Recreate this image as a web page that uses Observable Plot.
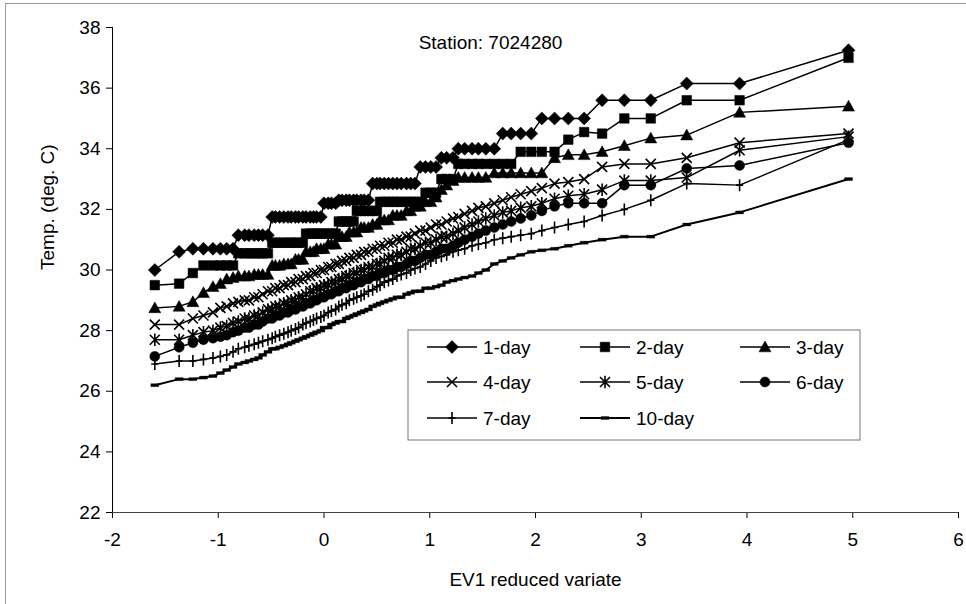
<!DOCTYPE html>
<html><head><meta charset="utf-8">
<script src="https://cdn.jsdelivr.net/npm/d3@7"></script>
<script src="https://cdn.jsdelivr.net/npm/@observablehq/plot@0.6"></script>
<style>
body{margin:0;background:#fff;}
#wrap{position:relative;width:966px;height:604px;overflow:hidden;font-family:"Liberation Sans",Arial,sans-serif;background:#fff;}
#wrap svg{display:block;}
#border{position:absolute;left:5px;top:3px;width:975px;height:615px;border:1px solid #999;pointer-events:none;}
#legend{position:absolute;left:0;top:0;pointer-events:none;}
</style></head><body><div id="wrap"><div id="border"></div></div>
<script>
// EV1 reduced variate (plotting positions shared by all series)
const xValues = [-1.60,-1.37,-1.24,-1.14,-1.05,-0.98,-0.92,-0.86,-0.81,-0.75,
-0.71,-0.66,-0.62,-0.58,-0.53,-0.49,-0.46,-0.42,-0.38,-0.34,
-0.31,-0.27,-0.24,-0.20,-0.17,-0.13,-0.10,-0.07,-0.03,0.00,
0.04,0.07,0.11,0.14,0.17,0.21,0.24,0.28,0.31,0.35,
0.38,0.42,0.46,0.50,0.53,0.57,0.61,0.65,0.69,0.73,
0.78,0.82,0.86,0.91,0.96,1.01,1.06,1.11,1.16,1.22,
1.27,1.33,1.40,1.46,1.53,1.61,1.69,1.77,1.86,1.96,
2.06,2.18,2.31,2.46,2.63,2.84,3.09,3.43,3.93,4.96];

const day1 = [30.0,30.6,30.7,30.7,30.7,30.7,30.7,30.7,31.15,31.15,
31.15,31.15,31.15,31.15,31.15,31.75,31.75,31.75,31.75,31.75,
31.75,31.75,31.75,31.75,31.75,31.75,31.75,31.75,31.75,32.2,
32.2,32.2,32.2,32.3,32.3,32.3,32.3,32.3,32.3,32.3,
32.3,32.3,32.85,32.85,32.85,32.85,32.85,32.85,32.85,32.85,
32.85,32.85,32.85,33.4,33.4,33.4,33.4,33.7,33.7,33.7,
34.0,34.0,34.0,34.0,34.0,34.0,34.5,34.5,34.5,34.5,
35.0,35.0,35.0,35.0,35.6,35.6,35.6,36.15,36.15,37.25];

const day2 = [29.5,29.55,29.9,30.15,30.15,30.15,30.15,30.15,30.55,30.55,
30.55,30.55,30.55,30.55,30.55,30.9,30.9,30.9,30.9,30.9,
30.9,30.9,30.9,30.9,31.2,31.2,31.2,31.2,31.2,31.2,
31.2,31.2,31.2,31.6,31.6,31.6,31.6,31.6,31.95,31.95,
31.95,31.95,31.95,31.95,32.25,32.25,32.25,32.25,32.25,32.25,
32.25,32.25,32.25,32.25,32.55,32.55,32.55,33.0,33.0,33.0,
33.5,33.5,33.5,33.5,33.5,33.5,33.5,33.5,33.9,33.9,
33.9,33.9,34.3,34.55,34.5,35.0,35.0,35.6,35.6,37.0];

const day3 = [28.75,28.8,28.95,29.25,29.45,29.55,29.7,29.75,29.8,29.8,
29.8,29.85,29.85,29.85,29.85,30.15,30.15,30.15,30.2,30.2,
30.2,30.35,30.35,30.35,30.6,30.6,30.6,30.7,30.7,30.7,
30.85,30.85,30.85,31.1,31.1,31.1,31.25,31.25,31.25,31.4,
31.4,31.4,31.5,31.5,31.65,31.65,31.65,31.8,31.8,31.8,
31.95,31.95,32.1,32.1,32.25,32.25,32.4,32.65,32.8,32.95,
33.05,33.05,33.05,33.05,33.05,33.2,33.2,33.2,33.2,33.2,
33.2,33.7,33.8,33.8,33.9,34.1,34.35,34.45,35.2,35.4];

const day4 = [28.2,28.2,28.4,28.5,28.6,28.75,28.8,28.9,28.95,29.0,
29.0,29.1,29.1,29.2,29.3,29.3,29.4,29.4,29.5,29.5,
29.6,29.6,29.7,29.7,29.8,29.8,29.9,29.9,30.0,30.0,
30.1,30.1,30.2,30.2,30.3,30.3,30.4,30.4,30.5,30.5,
30.6,30.6,30.7,30.7,30.8,30.8,30.9,30.9,31.0,31.0,
31.1,31.1,31.2,31.3,31.3,31.4,31.5,31.5,31.6,31.7,
31.75,31.85,31.95,32.05,32.1,32.2,32.3,32.4,32.5,32.6,
32.7,32.85,32.9,33.0,33.4,33.5,33.5,33.7,34.2,34.5];

const day5 = [27.7,27.7,27.85,27.95,28.0,28.1,28.15,28.25,28.3,28.4,
28.4,28.5,28.5,28.6,28.7,28.7,28.8,28.8,28.9,28.9,
29.0,29.0,29.1,29.1,29.2,29.3,29.3,29.4,29.4,29.5,
29.5,29.6,29.6,29.7,29.7,29.8,29.8,29.9,29.9,30.0,
30.0,30.1,30.1,30.2,30.2,30.3,30.4,30.4,30.5,30.5,
30.6,30.7,30.7,30.8,30.9,30.9,31.0,31.1,31.1,31.2,
31.3,31.4,31.5,31.6,31.7,31.8,31.9,31.95,32.05,32.1,
32.2,32.35,32.45,32.5,32.65,32.95,32.95,33.05,33.95,34.4];

const day6 = [27.15,27.45,27.6,27.7,27.75,27.8,27.85,27.95,28.0,28.1,
28.1,28.2,28.2,28.3,28.4,28.4,28.5,28.5,28.6,28.6,
28.7,28.7,28.8,28.8,28.9,28.9,29.0,29.0,29.1,29.1,
29.2,29.2,29.3,29.3,29.4,29.4,29.5,29.5,29.6,29.6,
29.7,29.7,29.8,29.8,29.9,29.9,30.0,30.0,30.1,30.1,
30.2,30.3,30.3,30.4,30.5,30.5,30.6,30.7,30.7,30.8,
30.9,31.0,31.1,31.2,31.3,31.4,31.5,31.6,31.7,31.8,
31.95,32.1,32.2,32.2,32.2,32.8,32.8,33.35,33.45,34.2];

const day7 = [26.9,27.0,27.0,27.05,27.1,27.15,27.2,27.3,27.4,27.45,
27.5,27.55,27.6,27.65,27.7,27.75,27.8,27.85,27.9,27.95,
28.0,28.05,28.1,28.2,28.25,28.3,28.35,28.4,28.45,28.5,
28.6,28.65,28.7,28.8,28.85,28.9,29.0,29.05,29.1,29.15,
29.2,29.3,29.35,29.45,29.5,29.6,29.65,29.7,29.8,29.85,
29.9,30.0,30.05,30.1,30.2,30.3,30.4,30.45,30.5,30.6,
30.65,30.7,30.8,30.85,30.9,31.0,31.05,31.1,31.15,31.2,
31.3,31.4,31.5,31.6,31.8,32.0,32.3,32.85,32.8,34.3];

const day10 = [26.2,26.4,26.4,26.45,26.5,26.6,26.7,26.8,26.9,26.95,
27.0,27.05,27.1,27.2,27.3,27.4,27.4,27.45,27.5,27.55,
27.6,27.65,27.7,27.75,27.8,27.85,27.9,27.95,28.0,28.1,
28.1,28.2,28.25,28.3,28.3,28.4,28.45,28.5,28.55,28.6,
28.65,28.7,28.8,28.85,28.9,28.95,29.0,29.05,29.1,29.1,
29.2,29.25,29.3,29.3,29.4,29.4,29.45,29.5,29.6,29.65,
29.7,29.75,29.8,29.9,30.0,30.2,30.3,30.4,30.5,30.6,
30.65,30.7,30.8,30.9,31.0,31.1,31.1,31.5,31.9,33.0];

const seriesNames = ["1-day","2-day","3-day","4-day","5-day","6-day","7-day","10-day"];
const seriesValues = [day1, day2, day3, day4, day5, day6, day7, day10];
const xTicks = [-2,-1,0,1,2,3,4,5,6];
const yTicks = [22,24,26,28,30,32,34,36,38];
const titleText = "Station: 7024280";
const xLabel = "EV1 reduced variate";
const yLabel = "Temp. (deg. C)";

// marker glyphs (Excel style)
const R = s => Math.sqrt(s / Math.PI);
const symDiamond = {draw(c, s){const r=R(s); c.moveTo(0,-r); c.lineTo(r,0); c.lineTo(0,r); c.lineTo(-r,0); c.closePath();}};
const symSquare = {draw(c, s){const r=R(s); c.rect(-r,-r,2*r,2*r);}};
const symTriangle = {draw(c, s){const r=R(s); c.moveTo(0,-r); c.lineTo(r,r*0.8); c.lineTo(-r,r*0.8); c.closePath();}};
const symTimes = {draw(c, s){const r=R(s); c.moveTo(-r,-r); c.lineTo(r,r); c.moveTo(r,-r); c.lineTo(-r,r);}};
const symStar = {draw(c, s){const r=R(s); c.moveTo(-r,-r); c.lineTo(r,r); c.moveTo(r,-r); c.lineTo(-r,r); c.moveTo(0,-r*1.25); c.lineTo(0,r*1.25);}};
const symCircle = {draw(c, s){const r=R(s); c.moveTo(r,0); c.arc(0,0,r,0,2*Math.PI);}};
const symPlus = {draw(c, s){const r=R(s); c.moveTo(0,-r); c.lineTo(0,r); c.moveTo(-r*0.6,0); c.lineTo(r*0.6,0);}};
const symDash = {draw(c, s){const r=R(s); c.rect(-r,-1.5,2*r,3);}};

const styles = [
  {sym: symDiamond, r: 6.5, fill: "black", sw: 0.5},
  {sym: symSquare, r: 4.8, fill: "black", sw: 0.5},
  {sym: symTriangle, r: 6, fill: "black", sw: 0.5},
  {sym: symTimes, r: 5, fill: "none", sw: 1.6},
  {sym: symStar, r: 5, fill: "none", sw: 1.6},
  {sym: symCircle, r: 5, fill: "black", sw: 0.5},
  {sym: symPlus, r: 6, fill: "none", sw: 1.6},
  {sym: symDash, r: 4, fill: "black", sw: 0.3}
];

const rows = seriesNames.map((name, i) => xValues.map((x, j) => ({x, t: seriesValues[i][j], s: name})));

const seriesMarks = [];
rows.forEach((data, i) => {
  const st = styles[i];
  seriesMarks.push(Plot.line(data, {x: "x", y: "t", stroke: "black", strokeWidth: i === 7 ? 2 : 1.5}));
  seriesMarks.push(Plot.dot(data, {x: "x", y: "t", symbol: st.sym, r: st.r, fill: st.fill, stroke: "black", strokeWidth: st.sw}));
});

const chart = Plot.plot({
  width: 966, height: 604,
  marginLeft: 112, marginRight: 8, marginTop: 27, marginBottom: 92,
  x: {domain: [xTicks[0], xTicks[xTicks.length-1]]},
  y: {domain: [yTicks[0], yTicks[yTicks.length-1]]},
  style: {fontFamily: "'Liberation Sans', Arial, sans-serif", fontSize: "19px", color: "black", background: "white"},
  marks: [
    Plot.axisX({ticks: xTicks, tickSize: 6, tickPadding: 14, label: null, fontSize: 19, tickFormat: d => String(d).replace("\u2212","-")}),
    Plot.axisY({ticks: yTicks, tickSize: 6, tickPadding: 6, label: null, fontSize: 19}),
    Plot.ruleX([xTicks[0]], {stroke: "black", strokeWidth: 1}),
    Plot.ruleY([yTicks[0]], {stroke: "#444", strokeWidth: 1}),
    ...seriesMarks,
    Plot.text([titleText], {text: d => d, frameAnchor: "top", dx: -45, dy: 8, fontSize: 19}),
    Plot.text([xLabel], {text: d => d, frameAnchor: "bottom", dy: 73, fontSize: 19}),
    Plot.text([yLabel], {text: d => d, frameAnchor: "left", dx: -65, rotate: -90, fontSize: 19})
  ]
});
document.getElementById("wrap").prepend(chart);

// legend overlay
const leg = d3.create("svg").attr("id", "legend").attr("width", 966).attr("height", 604)
  .style("font-family", "'Liberation Sans', Arial, sans-serif");
leg.append("rect").attr("x", 408).attr("y", 330).attr("width", 452).attr("height", 110)
  .attr("fill", "white").attr("stroke", "#777").attr("stroke-width", 1);
const colX = [427, 580, 740];
const rowY = [347, 382, 418];
seriesNames.forEach((name, i) => {
  const cx = colX[i % 3], cy = rowY[Math.floor(i / 3)];
  const st = styles[i];
  const g = leg.append("g");
  g.append("line").attr("x1", cx).attr("x2", cx + 50).attr("y1", cy).attr("y2", cy)
    .attr("stroke", "black").attr("stroke-width", i === 7 ? 2 : 1.5);
  const p = d3.path();
  st.sym.draw(p, st.r * st.r * Math.PI);
  g.append("path").attr("d", p.toString()).attr("transform", `translate(${cx + 25},${cy})`)
    .attr("fill", st.fill).attr("stroke", "black").attr("stroke-width", st.sw);
  g.append("text").attr("x", cx + 56).attr("y", cy).attr("dy", "0.36em")
    .attr("font-size", 19).attr("fill", "black").text(name);
});
document.getElementById("wrap").appendChild(leg.node());
</script>
</body></html>
